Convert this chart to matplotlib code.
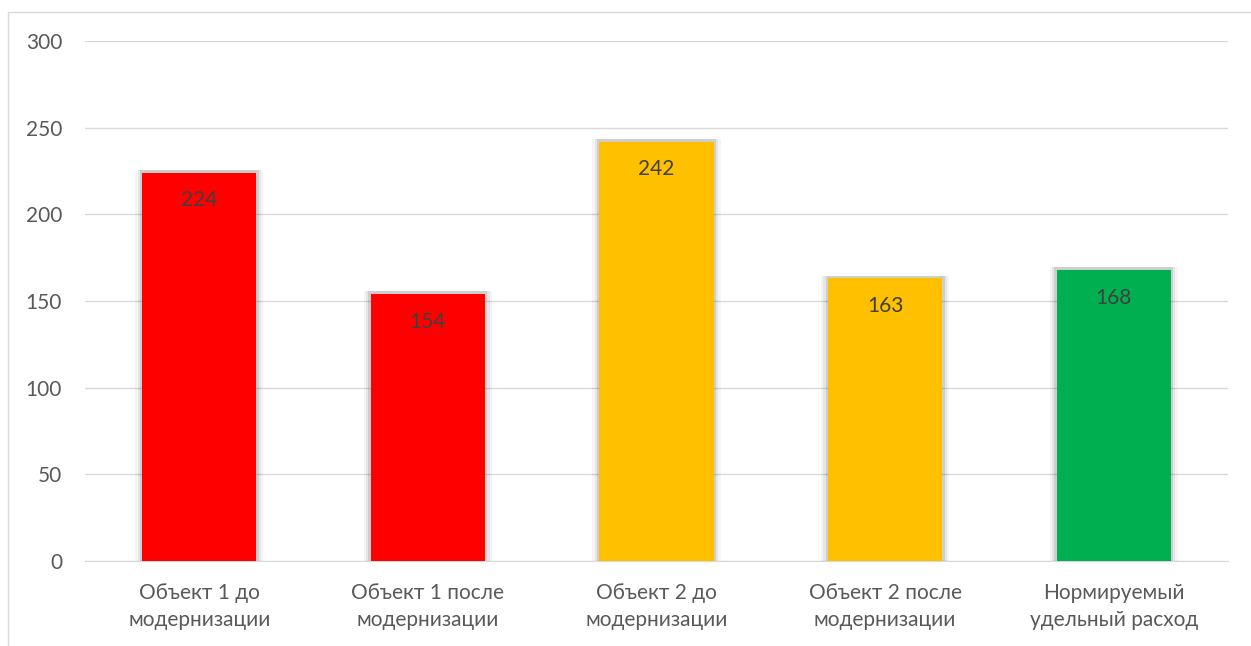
import matplotlib.pyplot as plt
from matplotlib.patches import Rectangle

categories = ['Объект 1 до\nмодернизации', 'Объект 1 после\nмодернизации',
              'Объект 2 до\nмодернизации', 'Объект 2 после\nмодернизации',
              'Нормируемый\nудельный расход']
values = [224, 154, 242, 163, 168]
colors = ['#FF0000', '#FF0000', '#FFC000', '#FFC000', '#00B050']
yticks = [0, 50, 100, 150, 200, 250, 300]

plt.rcParams['font.family'] = ['Lato', 'DejaVu Sans']

fig = plt.figure(figsize=(12.51, 6.46), dpi=100)
fig.patches.append(Rectangle((8 / 1251, -0.1), 1.2, (646 - 12) / 646 + 0.1,
                             transform=fig.transFigure, fill=False,
                             edgecolor='#d9d9d9', linewidth=1))
ax = fig.add_axes([85 / 1251, 1 - 561 / 646, 1143 / 1251, 520 / 646])

x = range(len(values))
# soft shadow behind bars
for w, a in [(0.56, 0.04), (0.54, 0.06), (0.52, 0.10)]:
    ax.bar(x, [v + 1.5 for v in values], width=w, color='black', alpha=a,
           zorder=2, linewidth=0)
ax.bar(x, values, width=0.5, color=colors, zorder=3, linewidth=0)

for i, v in enumerate(values):
    ax.text(i, v - 16, str(v), ha='center', va='center', fontsize=15,
            color='#404040', zorder=4)

ax.set_xlim(-0.5, len(values) - 0.5)
ax.set_ylim(0, 300)
ax.set_yticks(yticks)
ax.set_xticks(list(x))
ax.set_xticklabels(categories, fontsize=15, color='#595959', linespacing=1.45)
ax.tick_params(axis='y', labelsize=15, labelcolor='#595959', length=0, pad=16.5)
ax.tick_params(axis='x', length=0, pad=15.5)
ax.grid(axis='y', color='#d9d9d9', linewidth=1, zorder=0)
ax.set_axisbelow(True)
for s in ['top', 'right', 'left']:
    ax.spines[s].set_visible(False)
ax.spines['bottom'].set_color('#d9d9d9')

plt.savefig('out.png', dpi=100)
